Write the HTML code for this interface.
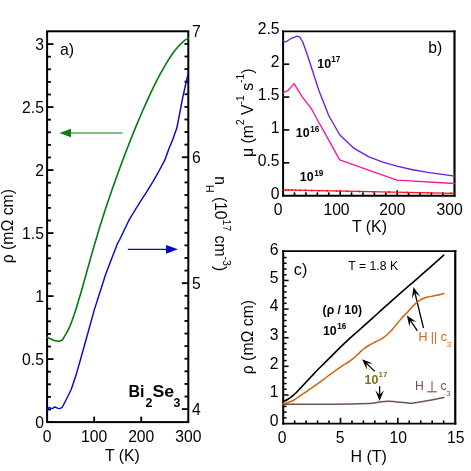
<!DOCTYPE html>
<html><head><meta charset="utf-8"><title>Bi2Se3 transport</title>
<style>
html,body{margin:0;padding:0;background:#fff;}
body{width:471px;height:471px;overflow:hidden;}
svg{display:block;font-family:"Liberation Sans", sans-serif;will-change:transform;}
</style></head>
<body>
<svg width="471" height="471" viewBox="0 0 471 471">
<rect x="0" y="0" width="471" height="471" fill="#fff"/>
<rect x="47.1" y="31.3" width="141.20" height="390.80" fill="none" stroke="#000" stroke-width="2.0"/>
<line x1="47.10" y1="422.10" x2="53.50" y2="422.10" stroke="#000" stroke-width="1.85" />
<line x1="47.10" y1="409.50" x2="50.90" y2="409.50" stroke="#000" stroke-width="1.85" />
<line x1="47.10" y1="396.90" x2="50.90" y2="396.90" stroke="#000" stroke-width="1.85" />
<line x1="47.10" y1="384.30" x2="50.90" y2="384.30" stroke="#000" stroke-width="1.85" />
<line x1="47.10" y1="371.70" x2="50.90" y2="371.70" stroke="#000" stroke-width="1.85" />
<line x1="47.10" y1="359.10" x2="53.50" y2="359.10" stroke="#000" stroke-width="1.85" />
<line x1="47.10" y1="346.50" x2="50.90" y2="346.50" stroke="#000" stroke-width="1.85" />
<line x1="47.10" y1="333.90" x2="50.90" y2="333.90" stroke="#000" stroke-width="1.85" />
<line x1="47.10" y1="321.30" x2="50.90" y2="321.30" stroke="#000" stroke-width="1.85" />
<line x1="47.10" y1="308.70" x2="50.90" y2="308.70" stroke="#000" stroke-width="1.85" />
<line x1="47.10" y1="296.10" x2="53.50" y2="296.10" stroke="#000" stroke-width="1.85" />
<line x1="47.10" y1="283.50" x2="50.90" y2="283.50" stroke="#000" stroke-width="1.85" />
<line x1="47.10" y1="270.90" x2="50.90" y2="270.90" stroke="#000" stroke-width="1.85" />
<line x1="47.10" y1="258.30" x2="50.90" y2="258.30" stroke="#000" stroke-width="1.85" />
<line x1="47.10" y1="245.70" x2="50.90" y2="245.70" stroke="#000" stroke-width="1.85" />
<line x1="47.10" y1="233.10" x2="53.50" y2="233.10" stroke="#000" stroke-width="1.85" />
<line x1="47.10" y1="220.50" x2="50.90" y2="220.50" stroke="#000" stroke-width="1.85" />
<line x1="47.10" y1="207.90" x2="50.90" y2="207.90" stroke="#000" stroke-width="1.85" />
<line x1="47.10" y1="195.30" x2="50.90" y2="195.30" stroke="#000" stroke-width="1.85" />
<line x1="47.10" y1="182.70" x2="50.90" y2="182.70" stroke="#000" stroke-width="1.85" />
<line x1="47.10" y1="170.10" x2="53.50" y2="170.10" stroke="#000" stroke-width="1.85" />
<line x1="47.10" y1="157.50" x2="50.90" y2="157.50" stroke="#000" stroke-width="1.85" />
<line x1="47.10" y1="144.90" x2="50.90" y2="144.90" stroke="#000" stroke-width="1.85" />
<line x1="47.10" y1="132.30" x2="50.90" y2="132.30" stroke="#000" stroke-width="1.85" />
<line x1="47.10" y1="119.70" x2="50.90" y2="119.70" stroke="#000" stroke-width="1.85" />
<line x1="47.10" y1="107.10" x2="53.50" y2="107.10" stroke="#000" stroke-width="1.85" />
<line x1="47.10" y1="94.50" x2="50.90" y2="94.50" stroke="#000" stroke-width="1.85" />
<line x1="47.10" y1="81.90" x2="50.90" y2="81.90" stroke="#000" stroke-width="1.85" />
<line x1="47.10" y1="69.30" x2="50.90" y2="69.30" stroke="#000" stroke-width="1.85" />
<line x1="47.10" y1="56.70" x2="50.90" y2="56.70" stroke="#000" stroke-width="1.85" />
<line x1="47.10" y1="44.10" x2="53.50" y2="44.10" stroke="#000" stroke-width="1.85" />
<text x="43.90" y="427.50" font-size="15.7" text-anchor="end" font-weight="normal" fill="#000" >0</text>
<text x="43.90" y="364.50" font-size="15.7" text-anchor="end" font-weight="normal" fill="#000" >0.5</text>
<text x="43.90" y="301.50" font-size="15.7" text-anchor="end" font-weight="normal" fill="#000" >1</text>
<text x="43.90" y="238.50" font-size="15.7" text-anchor="end" font-weight="normal" fill="#000" >1.5</text>
<text x="43.90" y="175.50" font-size="15.7" text-anchor="end" font-weight="normal" fill="#000" >2</text>
<text x="43.90" y="112.50" font-size="15.7" text-anchor="end" font-weight="normal" fill="#000" >2.5</text>
<text x="43.90" y="49.50" font-size="15.7" text-anchor="end" font-weight="normal" fill="#000" >3</text>
<line x1="188.30" y1="409.10" x2="181.90" y2="409.10" stroke="#000" stroke-width="1.85" />
<line x1="188.30" y1="396.51" x2="184.50" y2="396.51" stroke="#000" stroke-width="1.85" />
<line x1="188.30" y1="383.91" x2="184.50" y2="383.91" stroke="#000" stroke-width="1.85" />
<line x1="188.30" y1="371.32" x2="184.50" y2="371.32" stroke="#000" stroke-width="1.85" />
<line x1="188.30" y1="358.73" x2="184.50" y2="358.73" stroke="#000" stroke-width="1.85" />
<line x1="188.30" y1="346.13" x2="184.50" y2="346.13" stroke="#000" stroke-width="1.85" />
<line x1="188.30" y1="333.54" x2="184.50" y2="333.54" stroke="#000" stroke-width="1.85" />
<line x1="188.30" y1="320.95" x2="184.50" y2="320.95" stroke="#000" stroke-width="1.85" />
<line x1="188.30" y1="308.36" x2="184.50" y2="308.36" stroke="#000" stroke-width="1.85" />
<line x1="188.30" y1="295.76" x2="184.50" y2="295.76" stroke="#000" stroke-width="1.85" />
<line x1="188.30" y1="283.17" x2="181.90" y2="283.17" stroke="#000" stroke-width="1.85" />
<line x1="188.30" y1="270.58" x2="184.50" y2="270.58" stroke="#000" stroke-width="1.85" />
<line x1="188.30" y1="257.98" x2="184.50" y2="257.98" stroke="#000" stroke-width="1.85" />
<line x1="188.30" y1="245.39" x2="184.50" y2="245.39" stroke="#000" stroke-width="1.85" />
<line x1="188.30" y1="232.80" x2="184.50" y2="232.80" stroke="#000" stroke-width="1.85" />
<line x1="188.30" y1="220.21" x2="184.50" y2="220.21" stroke="#000" stroke-width="1.85" />
<line x1="188.30" y1="207.61" x2="184.50" y2="207.61" stroke="#000" stroke-width="1.85" />
<line x1="188.30" y1="195.02" x2="184.50" y2="195.02" stroke="#000" stroke-width="1.85" />
<line x1="188.30" y1="182.43" x2="184.50" y2="182.43" stroke="#000" stroke-width="1.85" />
<line x1="188.30" y1="169.83" x2="184.50" y2="169.83" stroke="#000" stroke-width="1.85" />
<line x1="188.30" y1="157.24" x2="181.90" y2="157.24" stroke="#000" stroke-width="1.85" />
<line x1="188.30" y1="144.65" x2="184.50" y2="144.65" stroke="#000" stroke-width="1.85" />
<line x1="188.30" y1="132.05" x2="184.50" y2="132.05" stroke="#000" stroke-width="1.85" />
<line x1="188.30" y1="119.46" x2="184.50" y2="119.46" stroke="#000" stroke-width="1.85" />
<line x1="188.30" y1="106.87" x2="184.50" y2="106.87" stroke="#000" stroke-width="1.85" />
<line x1="188.30" y1="94.27" x2="184.50" y2="94.27" stroke="#000" stroke-width="1.85" />
<line x1="188.30" y1="81.68" x2="184.50" y2="81.68" stroke="#000" stroke-width="1.85" />
<line x1="188.30" y1="69.09" x2="184.50" y2="69.09" stroke="#000" stroke-width="1.85" />
<line x1="188.30" y1="56.50" x2="184.50" y2="56.50" stroke="#000" stroke-width="1.85" />
<line x1="188.30" y1="43.90" x2="184.50" y2="43.90" stroke="#000" stroke-width="1.85" />
<text x="191.90" y="414.50" font-size="15.7" text-anchor="start" font-weight="normal" fill="#000" >4</text>
<text x="191.90" y="288.57" font-size="15.7" text-anchor="start" font-weight="normal" fill="#000" >5</text>
<text x="191.90" y="162.64" font-size="15.7" text-anchor="start" font-weight="normal" fill="#000" >6</text>
<text x="191.90" y="36.71" font-size="15.7" text-anchor="start" font-weight="normal" fill="#000" >7</text>
<line x1="94.17" y1="422.10" x2="94.17" y2="416.60" stroke="#000" stroke-width="1.85" />
<line x1="141.24" y1="422.10" x2="141.24" y2="416.60" stroke="#000" stroke-width="1.85" />
<text x="47.10" y="441.90" font-size="15.7" text-anchor="middle" font-weight="normal" fill="#000" >0</text>
<text x="94.17" y="441.90" font-size="15.7" text-anchor="middle" font-weight="normal" fill="#000" >100</text>
<text x="141.24" y="441.90" font-size="15.7" text-anchor="middle" font-weight="normal" fill="#000" >200</text>
<text x="188.31" y="441.90" font-size="15.7" text-anchor="middle" font-weight="normal" fill="#000" >300</text>
<text x="122.40" y="461.00" font-size="15.8" text-anchor="middle" font-weight="normal" fill="#000" >T (K)</text>
<text transform="translate(12.7,226.2) rotate(-90)" font-size="15.8" text-anchor="middle">ρ (mΩ cm)</text>
<text transform="translate(214.8,176.2) rotate(90)" font-size="15.7" text-anchor="start">n<tspan dy="8.3" font-size="10.5">H</tspan><tspan dy="-8.3"> (10</tspan><tspan dy="-8.3" font-size="10.5">17</tspan><tspan dy="8.3"> cm</tspan><tspan dy="-8.3" font-size="10.5">-3</tspan><tspan dy="8.3">)</tspan></text>
<text x="60.00" y="54.80" font-size="15.9" text-anchor="start" font-weight="normal" fill="#000" >a)</text>
<text x="128.40" y="396.80" font-size="16" text-anchor="start" font-weight="bold" fill="#000" >Bi</text>
<text x="145.50" y="406.80" font-size="12.4" text-anchor="start" font-weight="bold" fill="#000" >2</text>
<text x="152.40" y="396.80" font-size="16" text-anchor="start" font-weight="bold" fill="#000" textLength="21.7" lengthAdjust="spacingAndGlyphs">Se</text>
<text x="173.60" y="406.80" font-size="12.4" text-anchor="start" font-weight="bold" fill="#000" >3</text>
<line x1="70.00" y1="133.00" x2="122.50" y2="133.00" stroke="#007d0c" stroke-width="1.1" />
<polygon points="59.5,133 71,128.7 71,137.3" fill="#007d0c"/>
<line x1="127.80" y1="249.30" x2="166.00" y2="249.30" stroke="#0606d4" stroke-width="1.2" />
<polygon points="177.9,249.3 166.0,245 166.0,253.7" fill="#0606d4"/>
<line x1="282.10" y1="31.40" x2="455.45" y2="31.40" stroke="#000" stroke-width="1.9" />
<line x1="454.50" y1="30.50" x2="454.50" y2="196.60" stroke="#000" stroke-width="2.15" />
<line x1="283.10" y1="30.50" x2="283.10" y2="196.60" stroke="#000" stroke-width="2.0" />
<line x1="282.10" y1="195.70" x2="455.45" y2="195.70" stroke="#000" stroke-width="1.9" />
<text x="279.50" y="198.70" font-size="15.7" text-anchor="end" font-weight="normal" fill="#000" >0</text>
<line x1="283.10" y1="162.82" x2="289.30" y2="162.82" stroke="#000" stroke-width="1.6" />
<text x="279.50" y="165.82" font-size="15.7" text-anchor="end" font-weight="normal" fill="#000" >0.5</text>
<line x1="283.10" y1="129.94" x2="289.30" y2="129.94" stroke="#000" stroke-width="1.6" />
<text x="279.50" y="132.94" font-size="15.7" text-anchor="end" font-weight="normal" fill="#000" >1</text>
<line x1="283.10" y1="97.06" x2="289.30" y2="97.06" stroke="#000" stroke-width="1.6" />
<text x="279.50" y="100.06" font-size="15.7" text-anchor="end" font-weight="normal" fill="#000" >1.5</text>
<line x1="283.10" y1="64.18" x2="289.30" y2="64.18" stroke="#000" stroke-width="1.6" />
<text x="279.50" y="67.18" font-size="15.7" text-anchor="end" font-weight="normal" fill="#000" >2</text>
<text x="279.50" y="34.30" font-size="15.7" text-anchor="end" font-weight="normal" fill="#000" >2.5</text>
<line x1="294.51" y1="195.70" x2="294.51" y2="192.30" stroke="#000" stroke-width="1.6" />
<line x1="305.92" y1="195.70" x2="305.92" y2="192.30" stroke="#000" stroke-width="1.6" />
<line x1="317.33" y1="195.70" x2="317.33" y2="192.30" stroke="#000" stroke-width="1.6" />
<line x1="328.74" y1="195.70" x2="328.74" y2="192.30" stroke="#000" stroke-width="1.6" />
<line x1="340.15" y1="195.70" x2="340.15" y2="190.20" stroke="#000" stroke-width="1.6" />
<line x1="351.56" y1="195.70" x2="351.56" y2="192.30" stroke="#000" stroke-width="1.6" />
<line x1="362.97" y1="195.70" x2="362.97" y2="192.30" stroke="#000" stroke-width="1.6" />
<line x1="374.38" y1="195.70" x2="374.38" y2="192.30" stroke="#000" stroke-width="1.6" />
<line x1="385.79" y1="195.70" x2="385.79" y2="192.30" stroke="#000" stroke-width="1.6" />
<line x1="397.20" y1="195.70" x2="397.20" y2="190.20" stroke="#000" stroke-width="1.6" />
<line x1="408.61" y1="195.70" x2="408.61" y2="192.30" stroke="#000" stroke-width="1.6" />
<line x1="420.02" y1="195.70" x2="420.02" y2="192.30" stroke="#000" stroke-width="1.6" />
<line x1="431.43" y1="195.70" x2="431.43" y2="192.30" stroke="#000" stroke-width="1.6" />
<line x1="442.84" y1="195.70" x2="442.84" y2="192.30" stroke="#000" stroke-width="1.6" />
<text x="278.00" y="214.70" font-size="15.7" text-anchor="middle" font-weight="normal" fill="#000" >0</text>
<text x="336.50" y="214.70" font-size="15.7" text-anchor="middle" font-weight="normal" fill="#000" >100</text>
<text x="392.30" y="214.70" font-size="15.7" text-anchor="middle" font-weight="normal" fill="#000" >200</text>
<text x="449.70" y="214.70" font-size="15.7" text-anchor="middle" font-weight="normal" fill="#000" >300</text>
<text x="369.50" y="232.00" font-size="15.8" text-anchor="middle" font-weight="normal" fill="#000" >T (K)</text>
<line x1="282.40" y1="189.90" x2="454.70" y2="193.40" stroke="#f5141e" stroke-width="1.15" />
<circle cx="285.60" cy="189.97" r="1.0" fill="#f5141e"/>
<circle cx="288.43" cy="190.02" r="1.0" fill="#f5141e"/>
<circle cx="291.78" cy="190.09" r="1.0" fill="#f5141e"/>
<circle cx="295.70" cy="190.17" r="1.0" fill="#f5141e"/>
<circle cx="300.28" cy="190.26" r="1.0" fill="#f5141e"/>
<circle cx="305.60" cy="190.37" r="1.0" fill="#f5141e"/>
<circle cx="311.76" cy="190.50" r="1.0" fill="#f5141e"/>
<circle cx="318.87" cy="190.64" r="1.0" fill="#f5141e"/>
<circle cx="327.05" cy="190.81" r="1.0" fill="#f5141e"/>
<circle cx="336.42" cy="191.00" r="1.0" fill="#f5141e"/>
<circle cx="347.15" cy="191.22" r="1.0" fill="#f5141e"/>
<circle cx="359.40" cy="191.46" r="1.0" fill="#f5141e"/>
<circle cx="373.36" cy="191.75" r="1.0" fill="#f5141e"/>
<circle cx="389.22" cy="192.07" r="1.0" fill="#f5141e"/>
<circle cx="407.24" cy="192.44" r="1.0" fill="#f5141e"/>
<circle cx="427.66" cy="192.85" r="1.0" fill="#f5141e"/>
<circle cx="450.76" cy="193.32" r="1.0" fill="#f5141e"/>
<text transform="translate(252.8,157) rotate(-90)" font-size="15.8" text-anchor="start">μ (m<tspan dy="-8.8" font-size="10.3">2</tspan><tspan dy="8.8"> V</tspan><tspan dy="-8.8" font-size="10.3">-1</tspan><tspan dy="8.8"> s</tspan><tspan dy="-8.8" font-size="10.3">-1</tspan><tspan dy="8.8">)</tspan></text>
<text x="428.30" y="53.20" font-size="15.7" text-anchor="start" font-weight="normal" fill="#000" >b)</text>
<text x="317.30" y="68.00" font-size="12.4" text-anchor="start" font-weight="bold" fill="#000" >10</text>
<text x="331.20" y="62.20" font-size="8.2" text-anchor="start" font-weight="bold" fill="#000" >17</text>
<text x="295.80" y="137.30" font-size="12.4" text-anchor="start" font-weight="bold" fill="#000" >10</text>
<text x="310.20" y="131.50" font-size="8.2" text-anchor="start" font-weight="bold" fill="#000" >16</text>
<text x="299.80" y="181.40" font-size="12.4" text-anchor="start" font-weight="bold" fill="#000" >10</text>
<text x="314.20" y="175.60" font-size="8.2" text-anchor="start" font-weight="bold" fill="#000" >19</text>
<line x1="282.20" y1="251.15" x2="456.35" y2="251.15" stroke="#000" stroke-width="1.9" />
<line x1="455.25" y1="250.25" x2="455.25" y2="424.55" stroke="#000" stroke-width="2.2" />
<line x1="283.20" y1="250.25" x2="283.20" y2="424.55" stroke="#000" stroke-width="2.0" />
<line x1="282.20" y1="423.60" x2="456.35" y2="423.60" stroke="#000" stroke-width="1.95" />
<line x1="283.20" y1="417.87" x2="286.60" y2="417.87" stroke="#000" stroke-width="1.5" />
<line x1="283.20" y1="412.15" x2="286.60" y2="412.15" stroke="#000" stroke-width="1.5" />
<line x1="283.20" y1="406.42" x2="286.60" y2="406.42" stroke="#000" stroke-width="1.5" />
<line x1="283.20" y1="400.70" x2="286.60" y2="400.70" stroke="#000" stroke-width="1.5" />
<line x1="283.20" y1="394.97" x2="288.60" y2="394.97" stroke="#000" stroke-width="1.5" />
<line x1="283.20" y1="389.24" x2="286.60" y2="389.24" stroke="#000" stroke-width="1.5" />
<line x1="283.20" y1="383.52" x2="286.60" y2="383.52" stroke="#000" stroke-width="1.5" />
<line x1="283.20" y1="377.79" x2="286.60" y2="377.79" stroke="#000" stroke-width="1.5" />
<line x1="283.20" y1="372.07" x2="286.60" y2="372.07" stroke="#000" stroke-width="1.5" />
<line x1="283.20" y1="366.34" x2="288.60" y2="366.34" stroke="#000" stroke-width="1.5" />
<line x1="283.20" y1="360.61" x2="286.60" y2="360.61" stroke="#000" stroke-width="1.5" />
<line x1="283.20" y1="354.89" x2="286.60" y2="354.89" stroke="#000" stroke-width="1.5" />
<line x1="283.20" y1="349.16" x2="286.60" y2="349.16" stroke="#000" stroke-width="1.5" />
<line x1="283.20" y1="343.44" x2="286.60" y2="343.44" stroke="#000" stroke-width="1.5" />
<line x1="283.20" y1="337.71" x2="288.60" y2="337.71" stroke="#000" stroke-width="1.5" />
<line x1="283.20" y1="331.98" x2="286.60" y2="331.98" stroke="#000" stroke-width="1.5" />
<line x1="283.20" y1="326.26" x2="286.60" y2="326.26" stroke="#000" stroke-width="1.5" />
<line x1="283.20" y1="320.53" x2="286.60" y2="320.53" stroke="#000" stroke-width="1.5" />
<line x1="283.20" y1="314.81" x2="286.60" y2="314.81" stroke="#000" stroke-width="1.5" />
<line x1="283.20" y1="309.08" x2="288.60" y2="309.08" stroke="#000" stroke-width="1.5" />
<line x1="283.20" y1="303.35" x2="286.60" y2="303.35" stroke="#000" stroke-width="1.5" />
<line x1="283.20" y1="297.63" x2="286.60" y2="297.63" stroke="#000" stroke-width="1.5" />
<line x1="283.20" y1="291.90" x2="286.60" y2="291.90" stroke="#000" stroke-width="1.5" />
<line x1="283.20" y1="286.18" x2="286.60" y2="286.18" stroke="#000" stroke-width="1.5" />
<line x1="283.20" y1="280.45" x2="288.60" y2="280.45" stroke="#000" stroke-width="1.5" />
<line x1="283.20" y1="274.72" x2="286.60" y2="274.72" stroke="#000" stroke-width="1.5" />
<line x1="283.20" y1="269.00" x2="286.60" y2="269.00" stroke="#000" stroke-width="1.5" />
<line x1="283.20" y1="263.27" x2="286.60" y2="263.27" stroke="#000" stroke-width="1.5" />
<line x1="283.20" y1="257.55" x2="286.60" y2="257.55" stroke="#000" stroke-width="1.5" />
<text x="278.50" y="426.00" font-size="15.7" text-anchor="end" font-weight="normal" fill="#000" >0</text>
<text x="278.50" y="397.37" font-size="15.7" text-anchor="end" font-weight="normal" fill="#000" >1</text>
<text x="278.50" y="368.74" font-size="15.7" text-anchor="end" font-weight="normal" fill="#000" >2</text>
<text x="278.50" y="340.11" font-size="15.7" text-anchor="end" font-weight="normal" fill="#000" >3</text>
<text x="278.50" y="311.48" font-size="15.7" text-anchor="end" font-weight="normal" fill="#000" >4</text>
<text x="278.50" y="282.85" font-size="15.7" text-anchor="end" font-weight="normal" fill="#000" >5</text>
<text x="278.50" y="255.02" font-size="15.7" text-anchor="end" font-weight="normal" fill="#000" >6</text>
<line x1="294.66" y1="423.60" x2="294.66" y2="420.40" stroke="#000" stroke-width="1.65" />
<line x1="306.12" y1="423.60" x2="306.12" y2="420.40" stroke="#000" stroke-width="1.65" />
<line x1="317.58" y1="423.60" x2="317.58" y2="420.40" stroke="#000" stroke-width="1.65" />
<line x1="329.04" y1="423.60" x2="329.04" y2="420.40" stroke="#000" stroke-width="1.65" />
<line x1="340.50" y1="423.60" x2="340.50" y2="417.80" stroke="#000" stroke-width="1.65" />
<line x1="351.96" y1="423.60" x2="351.96" y2="420.40" stroke="#000" stroke-width="1.65" />
<line x1="363.42" y1="423.60" x2="363.42" y2="420.40" stroke="#000" stroke-width="1.65" />
<line x1="374.88" y1="423.60" x2="374.88" y2="420.40" stroke="#000" stroke-width="1.65" />
<line x1="386.34" y1="423.60" x2="386.34" y2="420.40" stroke="#000" stroke-width="1.65" />
<line x1="397.80" y1="423.60" x2="397.80" y2="417.80" stroke="#000" stroke-width="1.65" />
<line x1="409.26" y1="423.60" x2="409.26" y2="420.40" stroke="#000" stroke-width="1.65" />
<line x1="420.72" y1="423.60" x2="420.72" y2="420.40" stroke="#000" stroke-width="1.65" />
<line x1="432.18" y1="423.60" x2="432.18" y2="420.40" stroke="#000" stroke-width="1.65" />
<line x1="443.64" y1="423.60" x2="443.64" y2="420.40" stroke="#000" stroke-width="1.65" />
<text x="282.20" y="442.90" font-size="15.7" text-anchor="middle" font-weight="normal" fill="#000" >0</text>
<text x="340.00" y="442.90" font-size="15.7" text-anchor="middle" font-weight="normal" fill="#000" >5</text>
<text x="398.30" y="442.90" font-size="15.7" text-anchor="middle" font-weight="normal" fill="#000" >10</text>
<text x="455.80" y="442.90" font-size="15.7" text-anchor="middle" font-weight="normal" fill="#000" >15</text>
<text x="368.70" y="461.90" font-size="16" text-anchor="middle" font-weight="normal" fill="#000" >H (T)</text>
<text transform="translate(253.2,337.1) rotate(-90)" font-size="15.8" text-anchor="middle">ρ (mΩ cm)</text>
<text x="293.80" y="274.90" font-size="16.2" text-anchor="start" font-weight="normal" fill="#000" >c)</text>
<text x="348.30" y="270.40" font-size="12.25" text-anchor="start" font-weight="normal" fill="#000" >T = 1.8 K</text>
<text x="322.60" y="314.00" font-size="12.2" text-anchor="start" font-weight="bold" fill="#000" >(ρ / 10)</text>
<text x="322.90" y="334.60" font-size="12.4" text-anchor="start" font-weight="bold" fill="#000" >10</text>
<text x="337.30" y="328.80" font-size="8.2" text-anchor="start" font-weight="bold" fill="#000" >16</text>
<text x="364.60" y="383.90" font-size="12.4" text-anchor="start" font-weight="bold" fill="#82701c" >10</text>
<text x="378.60" y="377.40" font-size="8.0" text-anchor="start" font-weight="bold" fill="#82701c" >17</text>
<text x="418.4" y="340.5" font-size="12.4" fill="#cf640f">H || c<tspan dy="6.2" font-size="7.8">3</tspan></text>
<text x="414.90" y="389.80" font-size="12.2" text-anchor="start" font-weight="normal" fill="#735048" >H</text>
<line x1="432.00" y1="381.10" x2="432.00" y2="391.80" stroke="#735048" stroke-width="1.0" />
<line x1="427.10" y1="391.80" x2="436.90" y2="391.80" stroke="#735048" stroke-width="1.1" />
<text x="440.60" y="389.80" font-size="12.2" text-anchor="start" font-weight="normal" fill="#735048" >c</text>
<text x="446.20" y="396.20" font-size="7.8" text-anchor="start" font-weight="normal" fill="#735048" >3</text>
<line x1="423.50" y1="328.00" x2="414.92" y2="292.83" stroke="#000" stroke-width="1.3" />
<polygon points="413.50,287.00 420.21,296.38 414.92,292.83 411.86,298.41" fill="#000"/>
<line x1="417.40" y1="330.80" x2="410.30" y2="320.45" stroke="#000" stroke-width="1.3" />
<polygon points="406.90,315.50 416.50,321.89 410.30,320.45 409.41,326.76" fill="#000"/>
<line x1="374.80" y1="371.40" x2="366.43" y2="363.36" stroke="#000" stroke-width="1.3" />
<polygon points="362.10,359.20 372.80,363.51 366.43,363.36 366.84,369.71" fill="#000"/>
<line x1="379.60" y1="386.30" x2="379.60" y2="395.00" stroke="#000" stroke-width="1.3" />
<polygon points="379.60,401.00 375.30,390.30 379.60,395.00 383.90,390.30" fill="#000"/>
<path d="M47.10,337.30 C47.83,337.63 50.13,338.72 51.50,339.30 C52.87,339.88 54.03,340.48 55.30,340.80 C56.57,341.12 57.98,341.32 59.10,341.20 C60.22,341.08 61.05,340.98 62.00,340.10 C62.95,339.22 63.78,337.57 64.80,335.90 C65.82,334.23 67.05,332.22 68.10,330.10 C69.15,327.98 69.82,326.58 71.10,323.20 C72.38,319.82 74.43,314.00 75.80,309.80 C77.17,305.60 78.30,301.33 79.30,298.00 C80.30,294.67 80.35,294.90 81.80,289.80 C83.25,284.70 85.97,274.67 88.00,267.40 C90.03,260.13 92.00,253.05 94.00,246.20 C96.00,239.35 98.00,232.73 100.00,226.30 C102.00,219.87 104.00,213.68 106.00,207.60 C108.00,201.52 110.00,195.58 112.00,189.80 C114.00,184.02 116.00,178.42 118.00,172.90 C120.00,167.38 122.00,161.98 124.00,156.70 C126.00,151.42 128.00,146.25 130.00,141.20 C132.00,136.15 134.00,131.23 136.00,126.40 C138.00,121.57 140.00,116.80 142.00,112.20 C144.00,107.60 146.00,103.15 148.00,98.80 C150.00,94.45 152.00,90.17 154.00,86.10 C156.00,82.03 158.00,78.12 160.00,74.40 C162.00,70.68 164.00,67.12 166.00,63.80 C168.00,60.48 170.00,57.33 172.00,54.50 C174.00,51.67 176.00,49.08 178.00,46.80 C180.00,44.52 182.28,42.23 184.00,40.80 C185.72,39.37 187.58,38.63 188.30,38.20" fill="none" stroke="#007d0c" stroke-width="1.6" stroke-linejoin="round" stroke-linecap="round" />
<polyline points="47.10,411.00 48.30,408.20 49.50,407.40 51.00,408.40 52.50,408.60 54.00,407.20 55.50,407.00 57.00,408.00 58.50,408.40 60.00,408.60 62.40,407.00 66.00,400.00 71.30,389.20 76.40,373.90 81.50,356.00 94.30,309.90 105.70,274.20 110.00,263.00 117.30,243.90 119.50,240.00 128.70,220.70 134.50,211.00 140.30,201.60 146.70,191.80 153.10,181.40 159.00,171.00 164.80,160.20 169.00,148.50 172.60,140.00 176.90,127.80 182.60,98.20 186.40,81.00 188.30,73.40" fill="none" stroke="#0606d4" stroke-width="1.45" stroke-linejoin="round" stroke-linecap="round" />
<polyline points="283.10,40.80 285.70,42.00 290.80,38.70 297.10,36.20 299.70,37.20 302.80,42.00 307.30,54.80 311.20,66.80 318.70,90.00 328.70,115.50 339.90,135.00 354.10,148.40 369.00,156.90 382.80,162.20 396.90,166.20 411.40,169.50 426.20,172.10 440.20,174.10 454.70,176.10" fill="none" stroke="#6a1de0" stroke-width="1.35" stroke-linejoin="round" stroke-linecap="round" />
<polyline points="283.10,93.00 288.20,90.40 294.10,83.60 302.20,96.80 311.20,108.30 317.50,120.00 323.90,131.30 339.70,159.80 396.90,180.20 454.70,183.50" fill="none" stroke="#ff149a" stroke-width="1.35" stroke-linejoin="round" stroke-linecap="round" />
<path d="M283.10,401.00 C283.47,400.90 284.55,400.65 285.30,400.40 C286.05,400.15 286.65,400.03 287.60,399.50 C288.55,398.97 289.72,398.20 291.00,397.20 C292.28,396.20 293.80,394.93 295.30,393.50 C296.80,392.07 298.30,390.40 300.00,388.60 C301.70,386.80 303.53,384.80 305.50,382.70 C307.47,380.60 309.68,378.23 311.80,376.00 C313.92,373.77 316.07,371.48 318.20,369.30 C320.33,367.12 322.47,365.02 324.60,362.90 C326.73,360.78 328.43,359.15 331.00,356.60 C333.57,354.05 336.60,350.88 340.00,347.60 C343.40,344.32 348.22,339.80 351.40,336.90 C354.58,334.00 354.63,334.18 359.10,330.20 C363.57,326.22 371.83,318.73 378.20,313.00 C384.57,307.27 390.93,301.42 397.30,295.80 C403.67,290.18 411.47,283.57 416.40,279.30 C421.33,275.03 422.33,274.22 426.90,270.20 C431.47,266.18 440.98,257.70 443.80,255.20" fill="none" stroke="#000" stroke-width="1.6" stroke-linejoin="round" stroke-linecap="round" />
<path d="M283.10,404.00 C283.58,403.87 284.93,403.53 286.00,403.20 C287.07,402.87 288.17,402.53 289.50,402.00 C290.83,401.47 292.33,400.97 294.00,400.00 C295.67,399.03 297.58,397.50 299.50,396.20 C301.42,394.90 303.45,393.60 305.50,392.20 C307.55,390.80 309.68,389.28 311.80,387.80 C313.92,386.32 316.07,384.83 318.20,383.30 C320.33,381.77 322.47,380.18 324.60,378.60 C326.73,377.02 328.43,375.67 331.00,373.80 C333.57,371.93 336.58,369.73 340.00,367.40 C343.42,365.07 348.32,362.18 351.50,359.80 C354.68,357.42 357.10,354.90 359.10,353.10 C361.10,351.30 361.90,350.27 363.50,349.00 C365.10,347.73 367.03,346.53 368.70,345.50 C370.37,344.47 371.92,343.60 373.50,342.80 C375.08,342.00 376.62,341.53 378.20,340.70 C379.78,339.87 381.40,338.92 383.00,337.80 C384.60,336.68 386.22,335.43 387.80,334.00 C389.38,332.57 390.92,330.95 392.50,329.20 C394.08,327.45 395.82,325.28 397.30,323.50 C398.78,321.72 399.67,320.43 401.40,318.50 C403.13,316.57 405.58,314.17 407.70,311.90 C409.82,309.63 411.97,306.92 414.10,304.90 C416.23,302.88 418.38,301.07 420.50,299.80 C422.62,298.53 424.68,297.93 426.80,297.30 C428.92,296.67 431.07,296.43 433.20,296.00 C435.33,295.57 437.80,295.12 439.60,294.70 C441.40,294.28 443.27,293.70 444.00,293.50" fill="none" stroke="#cf640f" stroke-width="1.5" stroke-linejoin="round" stroke-linecap="round" />
<path d="M283.10,404.20 C285.92,404.22 293.85,404.28 300.00,404.30 C306.15,404.32 311.67,404.33 320.00,404.30 C328.33,404.27 341.82,404.23 350.00,404.10 C358.18,403.97 364.93,403.70 369.10,403.50 C373.27,403.30 373.25,403.15 375.00,402.90 C376.75,402.65 377.40,402.27 379.60,402.00 C381.80,401.73 385.88,401.37 388.20,401.30 C390.52,401.23 391.80,401.45 393.50,401.60 C395.20,401.75 395.65,401.93 398.40,402.20 C401.15,402.47 407.23,403.10 410.00,403.20 C412.77,403.30 413.33,403.00 415.00,402.80 C416.67,402.60 417.93,402.35 420.00,402.00 C422.07,401.65 424.82,401.17 427.40,400.70 C429.98,400.23 432.73,399.72 435.50,399.20 C438.27,398.68 442.58,397.87 444.00,397.60" fill="none" stroke="#6e5250" stroke-width="1.5" stroke-linejoin="round" stroke-linecap="round" />
</svg>
</body></html>
